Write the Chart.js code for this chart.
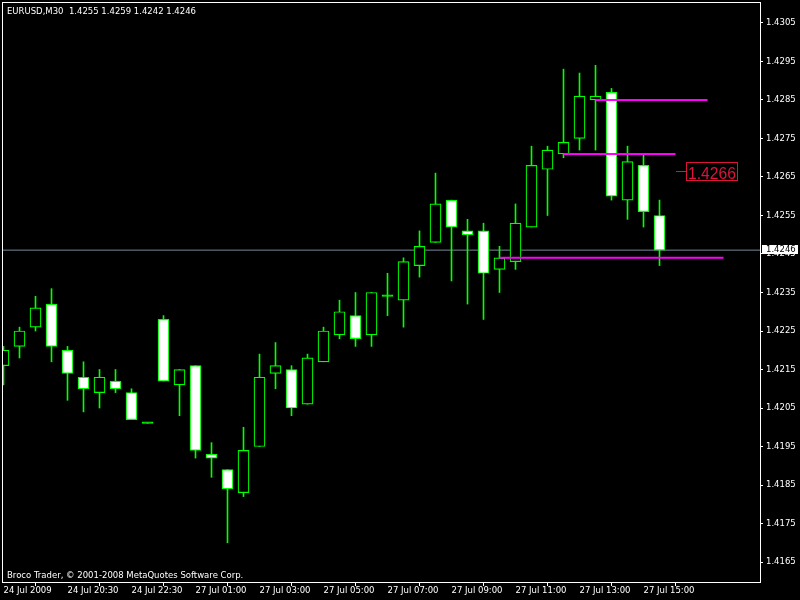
<!DOCTYPE html>
<html><head><meta charset="utf-8">
<script src="https://cdn.jsdelivr.net/npm/chart.js@4.4.0/dist/chart.umd.min.js"></script>
<style>html,body{margin:0;padding:0;background:#000;overflow:hidden}canvas{display:block}</style>
</head><body>
<canvas id="c" width="800" height="600"></canvas>
<script>
// ---- data ----
const symbol = 'EURUSD,M30';
const opens  = [1.4216,1.4221,1.4226,1.4232,1.4220,1.4213,1.4209,1.4212,1.4209,1.4201,
                1.4228,1.4211,1.4216,1.4193,1.4189,1.4183,1.4195,1.4214,1.4215,1.4206,
                1.4217,1.4224,1.4229,1.4224,1.4234,1.4233,1.4242,1.4248,1.4259,1.4251,
                1.4251,1.4241,1.4243,1.4252,1.4267,1.4271,1.4275,1.4285,1.4287,1.4259,
                1.4268,1.4255];
const highs  = [1.4221,1.4226,1.4234,1.4236,1.4221,1.4217,1.4215,1.4215,1.4210,1.4201,
                1.4229,1.4215,1.4216,1.4196,1.4189,1.4200,1.4219,1.4222,1.4216,1.4219,
                1.4226,1.4233,1.4235,1.4235,1.4240,1.4244,1.4251,1.4266,1.4259,1.4254,
                1.4253,1.4247,1.4258,1.4273,1.4273,1.4293,1.4292,1.4294,1.4288,1.4273,
                1.4271,1.4259];
const lows   = [1.4211,1.4218,1.4225,1.4217,1.4207,1.4204,1.4205,1.4209,1.4202,1.4201,
                1.4212,1.4203,1.4192,1.4187,1.4170,1.4182,1.4195,1.4210,1.4203,1.4206,
                1.4217,1.4223,1.4221,1.4221,1.4229,1.4226,1.4239,1.4248,1.4238,1.4232,
                1.4228,1.4235,1.4241,1.4252,1.4255,1.4270,1.4272,1.4272,1.4259,1.4254,
                1.4252,1.4242];
const closes = [1.4220,1.4225,1.4231,1.4221,1.4214,1.4210,1.4213,1.4210,1.4202,1.4201,
                1.4212,1.4215,1.4194,1.4192,1.4184,1.4194,1.4213,1.4216,1.4205,1.4218,
                1.4225,1.4230,1.4223,1.4235,1.4234,1.4243,1.4247,1.4258,1.4252,1.4250,
                1.4240,1.4244,1.4253,1.4268,1.4272,1.4274,1.4286,1.4286,1.4260,1.4269,
                1.4256,1.4246];
const tickBars   = [0,4,8,12,16,20,24,28,32,36,40];
const tickLabels = ['24 Jul 2009','24 Jul 20:30','24 Jul 22:30','27 Jul 01:00','27 Jul 03:00',
                    '27 Jul 05:00','27 Jul 07:00','27 Jul 09:00','27 Jul 11:00','27 Jul 13:00','27 Jul 15:00'];
const priceTicks = [1.4165,1.4175,1.4185,1.4195,1.4205,1.4215,1.4225,1.4235,
                    1.4245,1.4255,1.4265,1.4275,1.4285,1.4295,1.4305];
const levelPrices = [1.4285, 1.4271, 1.4244];
const levelFrom   = [37, 35, 31];
const levelTo     = [44, 42, 45];
const bidPrice   = 1.4246;
const labelPrice = 1.4266;
const labelBar   = 42;
const copyright  = 'Broco Trader, \u00A9 2001-2008 MetaQuotes Software Corp.';

// ---- view ----
const X_MIN = -0.09375, X_MAX = 47.28125;
const Y_MIN = 1.415981, Y_MAX = 1.431045;
const FONT = 'DejaVu Sans';
const GREEN = '#00ff00', MAGENTA = '#ff00ff', CRIMSON = '#dc143c';

const bodies = opens.map((o, i) => ({x: i, y: [o, closes[i]]}));
const wicks  = highs.map((h, i) => ({x: i, y: [lows[i], h]}));
const bodyFill = i => closes[i] < opens[i] ? '#ffffff' : (closes[i] === opens[i] ? GREEN : '#000000');

const datasets = [
  {type: 'line', data: [{x: X_MIN, y: bidPrice}, {x: X_MAX, y: bidPrice}],
   borderColor: '#778899', borderWidth: 1, pointRadius: 0, order: 5},
  {type: 'bar', data: wicks, backgroundColor: GREEN, borderWidth: 0,
   barThickness: 1, grouped: false, order: 4},
  {type: 'bar', data: bodies,
   backgroundColor: c => c.dataIndex !== undefined ? bodyFill(c.dataIndex) : '#000000',
   borderColor: GREEN, borderWidth: 1.2, borderSkipped: false, barThickness: 11,
   grouped: false, minBarLength: 1.5, order: 3}
].concat(levelPrices.map((p, k) => ({
  type: 'line', data: [{x: levelFrom[k], y: p}, {x: levelTo[k], y: p}],
  borderColor: MAGENTA, borderWidth: 2, pointRadius: 0, order: 1
})));

const mt4Plugin = {
  id: 'mt4',
  beforeDraw(chart) {
    const ctx = chart.ctx;
    ctx.save(); ctx.fillStyle = '#000'; ctx.fillRect(0, 0, chart.width, chart.height); ctx.restore();
  },
  afterDraw(chart) {
    const ctx = chart.ctx, a = chart.chartArea;
    const xs = chart.scales.x, ys = chart.scales.y;
    ctx.save();
    // frame
    ctx.strokeStyle = '#ffffff'; ctx.lineWidth = 1;
    ctx.strokeRect(a.left + 0.5, a.top + 0.5, a.right - a.left, a.bottom - a.top);
    // header
    const n = opens.length - 1;
    ctx.fillStyle = '#ffffff';
    ctx.font = '8.5px "' + FONT + '"';
    ctx.textBaseline = 'alphabetic'; ctx.textAlign = 'left';
    ctx.fillText(symbol + '  ' + [opens[n], highs[n], lows[n], closes[n]].map(v => v.toFixed(4)).join(' '),
                 a.left + 5, a.top + 12);
    ctx.fillText(copyright, a.left + 5, a.bottom - 4);
    // price label
    const lx = xs.getPixelForValue(labelBar);
    const ly = Math.round(ys.getPixelForValue(labelPrice)) - 1.5;
    ctx.strokeStyle = CRIMSON;
    ctx.beginPath(); ctx.moveTo(lx + 0.5, ly); ctx.lineTo(lx + 10.5, ly); ctx.stroke();
    ctx.strokeRect(lx + 11, ly - 9, 51, 18);
    ctx.fillStyle = CRIMSON;
    ctx.font = '15.7px "Liberation Sans"';
    ctx.fillText(labelPrice.toFixed(4), lx + 12.5, ly + 7);
    // bid label on axis
    const by = Math.round(ys.getPixelForValue(bidPrice));
    ctx.fillStyle = '#ffffff';
    ctx.fillRect(ys.left + 2, by - 5, 36, 9);
    ctx.fillStyle = '#000000';
    ctx.font = '8.5px "' + FONT + '"';
    ctx.textBaseline = 'middle';
    ctx.fillText(bidPrice.toFixed(4), ys.left + 6, by);
    ctx.restore();
  }
};

new Chart(document.getElementById('c'), {
  type: 'bar',
  data: {datasets},
  plugins: [mt4Plugin],
  options: {
    responsive: false, animation: false, devicePixelRatio: 1,
    layout: {padding: {left: 2, top: 2, right: 0, bottom: 0}},
    plugins: {legend: {display: false}, tooltip: {enabled: false}, title: {display: false}},
    font: {family: FONT, size: 8.5},
    scales: {
      x: {
        type: 'linear', position: 'bottom', min: X_MIN, max: X_MAX, offset: false,
        afterBuildTicks: s => { s.ticks = tickBars.map(v => ({value: v})); },
        afterFit: s => { s.height = 18; s.paddingLeft = 0; s.paddingRight = 0; },
        ticks: {callback: (v, i) => tickLabels[i], color: '#ffffff', align: 'start',
                autoSkip: false, maxRotation: 0, minRotation: 0, padding: 0,
                font: {family: FONT, size: 8.5}},
        grid: {display: true, drawOnChartArea: false, drawTicks: true, tickLength: 4, color: '#ffffff'},
        border: {display: false}
      },
      y: {
        type: 'linear', position: 'right', min: Y_MIN, max: Y_MAX,
        afterBuildTicks: s => { s.ticks = priceTicks.map(v => ({value: v})); },
        afterFit: s => { s.width = 40; s.paddingTop = 0; s.paddingBottom = 0; },
        ticks: {callback: v => v.toFixed(4), color: '#ffffff', padding: 3,
                autoSkip: false, font: {family: FONT, size: 8.5}},
        grid: {display: true, drawOnChartArea: false, drawTicks: true, tickLength: 3, color: '#ffffff'},
        border: {display: false}
      }
    }
  }
});
</script>
</body></html>
